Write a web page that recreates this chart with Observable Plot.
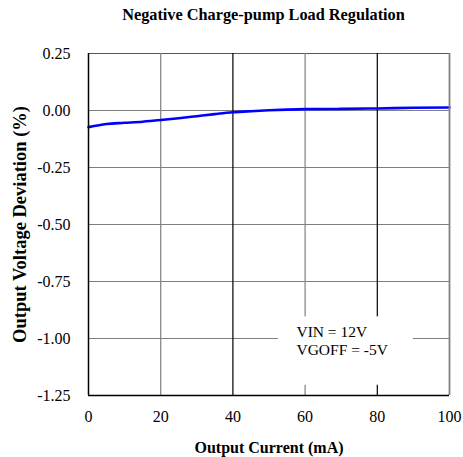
<!DOCTYPE html>
<html>
<head>
<meta charset="utf-8">
<script src="https://cdn.jsdelivr.net/npm/d3@7"></script>
<script src="https://cdn.jsdelivr.net/npm/@observablehq/plot@0.6"></script>
<style>
  body { margin: 0; background: #fff; }
  #wrap { position: relative; width: 463px; height: 457px; font-family: "Liberation Serif", "Times New Roman", serif; }
  #title { position: absolute; left: 0; top: 5px; width: 527px; text-align: center; font-weight: bold; font-size: 16.3px; color: #000; }
  #chart { position: absolute; left: 0; top: 0; }
</style>
</head>
<body>
<div id="wrap">
  <div id="chart"></div>
  <div id="title">Negative Charge-pump Load Regulation</div>
</div>
<script>
const title = "Negative Charge-pump Load Regulation";
const xLabel = "Output Current (mA)";
const yLabel = "Output Voltage Deviation (%)";
const xTicks = [0, 20, 40, 60, 80, 100];
const yTicks = [0.25, 0, -0.25, -0.5, -0.75, -1.0, -1.25];
const current = [0, 5, 10, 15, 20, 25, 30, 35, 40, 45, 50, 55, 60, 70, 80, 90, 100];
const deviation = [-0.073, -0.059, -0.054, -0.049, -0.042, -0.034, -0.025, -0.016, -0.008, -0.003, 0.001, 0.004, 0.006, 0.007, 0.009, 0.012, 0.013];
const noteLines = ["VIN = 12V", "VGOFF = -5V"];
const noteX = [57.6, 57.6];
const noteY = [-0.972, -1.05];

const series = current.map((c, i) => ({x: c, y: deviation[i]}));
const notes = noteLines.map((t, i) => ({t, x: noteX[i], y: noteY[i]}));

const grayV = [20, 60];
const blackV = [40, 80];

const plot = Plot.plot({
  width: 463,
  height: 457,
  marginLeft: 88,
  marginRight: 14,
  marginTop: 53,
  marginBottom: 62,
  style: {fontFamily: "'Liberation Serif', 'Times New Roman', serif", fontSize: "16px", color: "#000", background: "#fff"},
  x: {domain: [0, 100], ticks: xTicks},
  y: {domain: [-1.25, 0.25], ticks: yTicks},
  marks: [
    Plot.ruleY(yTicks.filter(v => v > -1.25 && v < 0.25), {stroke: "#808080", strokeWidth: 1.2, strokeOpacity: 1}),
    Plot.ruleY([0.25], {stroke: "#555", strokeWidth: 1.2}),
    Plot.ruleX(grayV, {stroke: "#808080", strokeWidth: 1.2}),
    Plot.ruleX(blackV, {stroke: "#000", strokeWidth: 1.2}),
    Plot.rect([{x1: 52.6, x2: 90, y1: -0.905, y2: -1.205}], {x1: "x1", x2: "x2", y1: "y1", y2: "y2", fill: "#fff"}),
    Plot.text(notes, {x: "x", y: "y", text: "t", textAnchor: "start", fontSize: 15.5, fill: "#000"}),
    Plot.line(series, {x: "x", y: "y", stroke: "#0000ff", strokeWidth: 2.6, curve: "monotone-x"}),
    Plot.ruleX([100], {stroke: "#808080", strokeWidth: 1.8}),
    Plot.ruleX([0], {stroke: "#000", strokeWidth: 1.5}),
    Plot.ruleY([-1.25], {stroke: "#000", strokeWidth: 1.5}),
    Plot.axisX({ticks: xTicks, tickSize: 0, tickPadding: 15, tickFormat: d => String(d), fontSize: 16,
      label: xLabel, labelAnchor: "center", labelArrow: "none", labelOffset: 57}),
    Plot.axisY({ticks: yTicks, tickSize: 0, tickPadding: 18, tickFormat: d => d.toFixed(2), fontSize: 16,
      label: yLabel, labelAnchor: "center", labelArrow: "none", labelOffset: 76})
  ]
});
const xl = plot.querySelector("[aria-label='x-axis label']");
if (xl) { xl.setAttribute("font-weight", "bold"); xl.setAttribute("font-size", "16"); }
const yl = plot.querySelector("[aria-label='y-axis label']");
if (yl) { yl.setAttribute("font-weight", "bold"); yl.setAttribute("font-size", "18.5"); }
document.getElementById("chart").appendChild(plot);
</script>
</body>
</html>
